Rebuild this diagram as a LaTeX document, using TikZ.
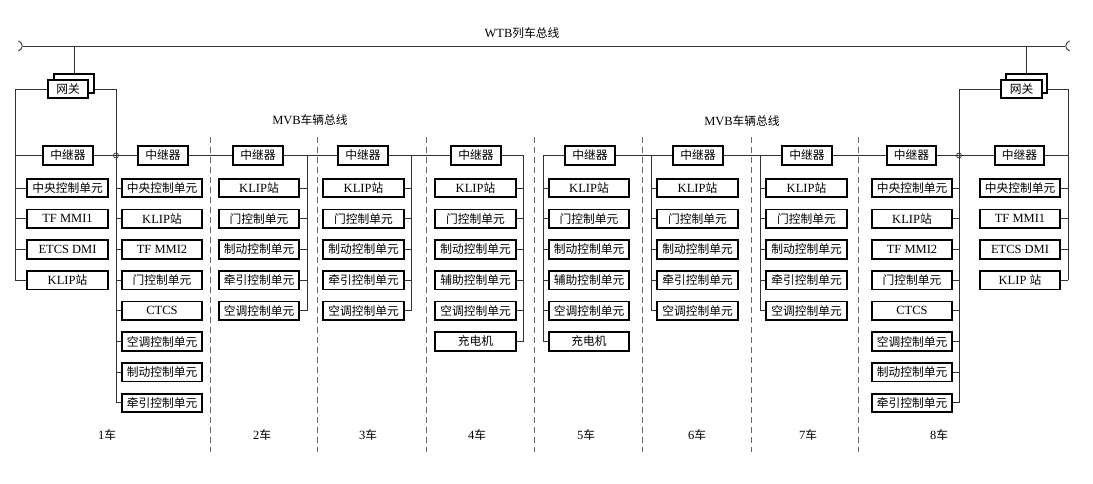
\documentclass[tikz,border=0pt]{standalone}
\usepackage{fontspec}
\setmainfont{Liberation Serif}
\newfontfamily\cjk[Scale=0.94]{Noto Sans CJK SC}
\newcommand{\cn}[1]{{\cjk #1}}
\tikzset{
  unit/.style={draw=black, line width=1.7pt, fill=white, minimum width=80.5pt,
    minimum height=18.5pt, inner sep=0pt, font=\fontsize{12.5}{14}\selectfont},
  rep/.style={unit, minimum width=49.5pt, minimum height=19.5pt},
  gw/.style={unit, minimum width=40.5pt, minimum height=18.5pt},
  wire/.style={line width=0.9pt, draw=black!80},
  divider/.style={draw=black!60, line width=1pt, dash pattern=on 6pt off 4pt},
  lbl/.style={font=\fontsize{12.5}{14}\selectfont, inner sep=0pt},
  junction/.style={circle, draw=black!80, line width=0.8pt, inner sep=0pt, minimum size=5pt}
}
% #1 name prefix, #2 x, #3 bus coordinate, #4 anchor side, #5 list of texts
\newcommand\carcol[5]{%
  \foreach [count=\k from 0] \t in {#5} {
    \node[unit] (#1\k) at (#2,{188+30.7*\k}) {\t};
    \draw[wire] (#1\k.#4) -- (#1\k.#4 -| #3);
  }}
\begin{document}
\begin{tikzpicture}[x=1pt,y=-1pt]
\useasboundingbox (0,0) rectangle (1093,483);

% dividers
\foreach \dx in {210,317,426,534,642,751,858}
  \draw[divider] (\dx,137) -- (\dx,452);

% WTB train bus
\coordinate (wtbL) at (23,46);
\coordinate (wtbR) at (1065,46);
\draw[wire] (wtbL) -- (wtbR);
\draw[wire] (18.5,41) .. controls (23.5,43) and (23.5,49) .. (18.5,51);
\draw[wire] (1069.5,41) .. controls (1064.5,43) and (1064.5,49) .. (1069.5,51);
\node[lbl] (wtb) at (522,33) {WTB\cn{列车总线}};

% MVB labels
\node[lbl] (mvb1) at (310,120) {MVB\cn{车辆总线}};
\node[lbl] (mvb2) at (742,121) {MVB\cn{车辆总线}};

% bus coordinates
\coordinate (pA) at (15,89);
\coordinate (pB) at (116,89);
\coordinate (p2) at (307,155);
\coordinate (p3) at (411,155);
\coordinate (p4) at (523,155);
\coordinate (p5) at (543,155);
\coordinate (p6) at (651,155);
\coordinate (p7) at (760,155);
\coordinate (p8) at (959,89);
\coordinate (pZ) at (1068,89);

% gateways
\node[gw] (gwLb) at (74,83.5) {};
\node[gw] (gwL) at (68,89) {\cn{网关}};
\node[gw] (gwRb) at (1026.5,83.5) {};
\node[gw] (gwR) at (1021.5,89) {\cn{网关}};
\draw[wire] (gwLb.north) -- (gwLb.north |- wtbL);
\draw[wire] (gwRb.north) -- (gwRb.north |- wtbR);
\draw[wire] (gwL.west) -- (pA);
\draw[wire] (gwLb.east |- gwL) -- (pB);
\draw[wire] (gwR.west) -- (p8);
\draw[wire] (gwRb.east |- gwR) -- (pZ);

% repeaters
\node[rep] (r1) at (68,155.5) {\cn{中继器}};
\node[rep] (r2) at (163,155.5) {\cn{中继器}};
\node[rep] (r3) at (258,155.5) {\cn{中继器}};
\node[rep] (r4) at (363,155.5) {\cn{中继器}};
\node[rep] (r5) at (476,155.5) {\cn{中继器}};
\node[rep] (r6) at (590,155.5) {\cn{中继器}};
\node[rep] (r7) at (698,155.5) {\cn{中继器}};
\node[rep] (r8) at (807,155.5) {\cn{中继器}};
\node[rep] (r9) at (911.5,155.5) {\cn{中继器}};
\node[rep] (r10) at (1019.5,155.5) {\cn{中继器}};

% MVB chain
\draw[wire] (pA |- r1) -- (r1.west);
\draw[wire] (r1.east) -- (r2.west);
\draw[wire] (r2.east) -- (r3.west);
\draw[wire] (r3.east) -- (r4.west);
\draw[wire] (r4.east) -- (r5.west);
\draw[wire] (r5.east) -- (p4 |- r5);
\draw[wire] (p5 |- r6) -- (r6.west);
\draw[wire] (r6.east) -- (r7.west);
\draw[wire] (r7.east) -- (r8.west);
\draw[wire] (r8.east) -- (r9.west);
\draw[wire] (r9.east) -- (r10.west);
\draw[wire] (r10.east) -- (pZ |- r10);

% car columns
\carcol{a}{67.5}{pA}{west}{\cn{中央控制单元}, TF MMI1, ETCS DMI, KLIP\cn{站}}
\carcol{b}{162}{pB}{west}{\cn{中央控制单元}, KLIP\cn{站}, TF MMI2, \cn{门控制单元}, CTCS, \cn{空调控制单元}, \cn{制动控制单元}, \cn{牵引控制单元}}
\carcol{c}{259}{p2}{east}{KLIP\cn{站}, \cn{门控制单元}, \cn{制动控制单元}, \cn{牵引控制单元}, \cn{空调控制单元}}
\carcol{d}{363.5}{p3}{east}{KLIP\cn{站}, \cn{门控制单元}, \cn{制动控制单元}, \cn{牵引控制单元}, \cn{空调控制单元}}
\carcol{e}{475.5}{p4}{east}{KLIP\cn{站}, \cn{门控制单元}, \cn{制动控制单元}, \cn{辅助控制单元}, \cn{空调控制单元}, \cn{充电机}}
\carcol{f}{589}{p5}{west}{KLIP\cn{站}, \cn{门控制单元}, \cn{制动控制单元}, \cn{辅助控制单元}, \cn{空调控制单元}, \cn{充电机}}
\carcol{g}{697.5}{p6}{west}{KLIP\cn{站}, \cn{门控制单元}, \cn{制动控制单元}, \cn{牵引控制单元}, \cn{空调控制单元}}
\carcol{h}{806.5}{p7}{west}{KLIP\cn{站}, \cn{门控制单元}, \cn{制动控制单元}, \cn{牵引控制单元}, \cn{空调控制单元}}
\carcol{i}{912}{p8}{east}{\cn{中央控制单元}, KLIP\cn{站}, TF MMI2, \cn{门控制单元}, CTCS, \cn{空调控制单元}, \cn{制动控制单元}, \cn{牵引控制单元}}
\carcol{z}{1020}{pZ}{east}{\cn{中央控制单元}, TF MMI1, ETCS DMI, KLIP \cn{站}}

% vertical buses
\draw[wire] (pA) -- (pA |- a3);
\draw[wire] (pB) -- (pB |- b7);
\draw[wire] (p2) -- (p2 |- c4);
\draw[wire] (p3) -- (p3 |- d4);
\draw[wire] (p4) -- (p4 |- e5);
\draw[wire] (p5) -- (p5 |- f5);
\draw[wire] (p6) -- (p6 |- g4);
\draw[wire] (p7) -- (p7 |- h4);
\draw[wire] (p8) -- (p8 |- i7);
\draw[wire] (pZ) -- (pZ |- z3);

% junctions
\node[junction] (j1) at (pB |- r1) {};
\node[junction] (j2) at (p8 |- r9) {};

% car labels
\node[lbl] (l1) at (107,435) {1\cn{车}};
\node[lbl] (l2) at (262,435) {2\cn{车}};
\node[lbl] (l3) at (368,435) {3\cn{车}};
\node[lbl] (l4) at (477,435) {4\cn{车}};
\node[lbl] (l5) at (586,435) {5\cn{车}};
\node[lbl] (l6) at (697,435) {6\cn{车}};
\node[lbl] (l7) at (808,435) {7\cn{车}};
\node[lbl] (l8) at (939,435) {8\cn{车}};
\end{tikzpicture}
\end{document}
